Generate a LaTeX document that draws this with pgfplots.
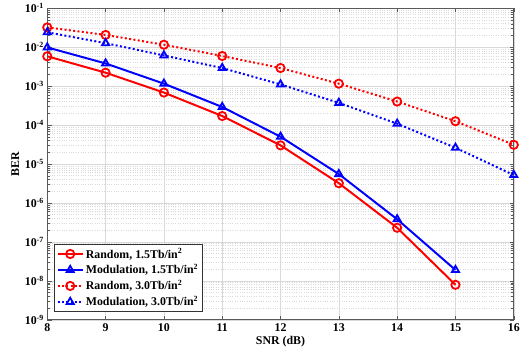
\documentclass[border=0pt]{standalone}
\usepackage{pgfplots}
\pgfplotsset{compat=1.18}
\usepackage{fontspec}
\setmainfont{Liberation Serif}
\begin{document}
\begin{tikzpicture}
\begin{axis}[
  scale only axis,
  width=470bp, height=314bp,
  ymode=log,
  xmin=8, xmax=16, ymin=1e-9, ymax=1e-1,
  xtick={8,9,...,16},
  ytick={1e-9,1e-8,1e-7,1e-6,1e-5,1e-4,1e-3,1e-2,1e-1},
  yticklabels={10\textsuperscript{-9},10\textsuperscript{-8},10\textsuperscript{-7},10\textsuperscript{-6},10\textsuperscript{-5},10\textsuperscript{-4},10\textsuperscript{-3},10\textsuperscript{-2},10\textsuperscript{-1}},
  /pgf/number format/assume math mode=true,
  tick label style={font=\fontsize{12}{14}\selectfont\bfseries},
  label style={font=\fontsize{12}{14}\selectfont\bfseries},
  xlabel={SNR (dB)},
  ylabel={BER},
  xlabel style={yshift=2pt},
  ylabel style={yshift=-1pt},
  grid=both,
  major grid style={gray!30, line width=0.4pt},
  minor grid style={gray!30, dotted, line width=0.4pt},
  tick align=inside,
  axis line style={gray!70!black, line width=0.6pt},
  tick style={gray!70!black},
  clip=false,
  legend style={font=\fontsize{12}{14}\selectfont\bfseries, draw=black!80, line width=0.6pt, at={(0.015,0.026)}, anchor=south west, row sep=1pt, inner sep=2pt},
  legend cell align=left,
  legend image code/.code={\draw[mark repeat=2,mark phase=2] plot coordinates {(0cm,0cm)(0.45cm,0cm)(0.9cm,0cm)};},
  every axis plot/.append style={line width=2pt, mark size=4.2pt, mark options={solid, line width=1.8pt, fill=white}},
  mydot/.style={dash pattern=on 2pt off 2.4pt},
]
\addplot[red, mark=o] coordinates {(8,5.8e-3)(9,2.2e-3)(10,6.8e-4)(11,1.7e-4)(12,3.0e-5)(13,3.2e-6)(14,2.3e-7)(15,7.9e-9)};
\addlegendentry{Random, 1.5Tb/in\textsuperscript{2}}
\addplot[blue, mark=triangle] coordinates {(8,9.8e-3)(9,3.8e-3)(10,1.15e-3)(11,2.9e-4)(12,5.0e-5)(13,5.5e-6)(14,3.8e-7)(15,1.9e-8)};
\addlegendentry{Modulation, 1.5Tb/in\textsuperscript{2}}
\addplot[red, mydot, mark=o] coordinates {(8,3.2e-2)(9,2.05e-2)(10,1.15e-2)(11,5.9e-3)(12,2.9e-3)(13,1.15e-3)(14,4.0e-4)(15,1.25e-4)(16,3.1e-5)};
\addlegendentry{Random, 3.0Tb/in\textsuperscript{2}}
\addplot[blue, mydot, mark=triangle] coordinates {(8,2.4e-2)(9,1.26e-2)(10,6.1e-3)(11,2.9e-3)(12,1.1e-3)(13,3.7e-4)(14,1.08e-4)(15,2.6e-5)(16,5.2e-6)};
\addlegendentry{Modulation, 3.0Tb/in\textsuperscript{2}}
\end{axis}
\path ([xshift=-8bp]current axis.outer west);
\end{tikzpicture}
\end{document}
